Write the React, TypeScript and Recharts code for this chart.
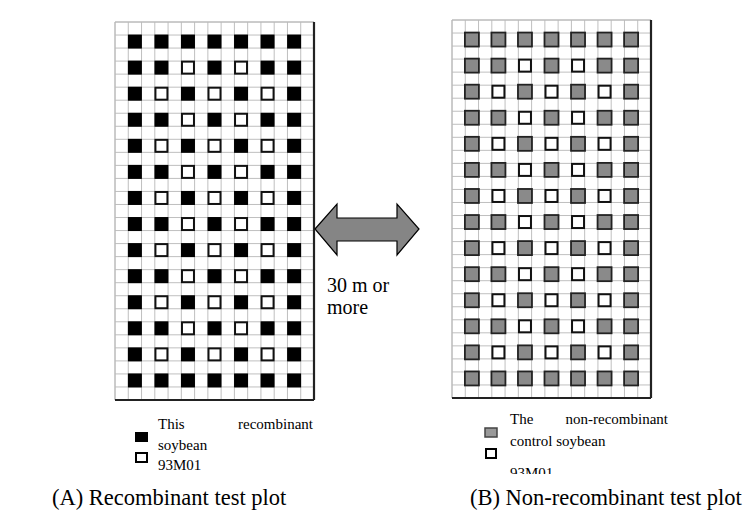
import React from 'react';
import { ScatterChart, Scatter, XAxis, YAxis, CartesianGrid, ReferenceLine } from 'recharts';

// plot layout: cell boundaries of the field grid (15 columns x 29 rows)
const colTicks = [0, 1, 2, 3, 4, 5, 6, 7, 8, 9, 10, 11, 12, 13, 14, 15];
const rowTicks = [0, 1, 2, 3, 4, 5, 6, 7, 8, 9, 10, 11, 12, 13, 14, 15, 16, 17, 18, 19, 20, 21, 22, 23, 24, 25, 26, 27, 28, 29];

// centres of the planted squares, in grid cells
const plantCols = [1.5, 3.5, 5.5, 7.5, 9.5, 11.5, 13.5];
const plantRows = [1.5, 3.5, 5.5, 7.5, 9.5, 11.5, 13.5, 15.5, 17.5, 19.5, 21.5, 23.5, 25.5, 27.5];

// S = soybean under test (recombinant or control), C = 93M01
const plantMap = [
  'SSSSSSS',
  'SSCSCSS',
  'SCSCSCS',
  'SSCSCSS',
  'SCSCSCS',
  'SSCSCSS',
  'SCSCSCS',
  'SSCSCSS',
  'SCSCSCS',
  'SSCSCSS',
  'SCSCSCS',
  'SSCSCSS',
  'SCSCSCS',
  'SSSSSSS',
];

const plotTitles = ['(A) Recombinant test plot', '(B) Non-recombinant test plot'];

type Cell = { x: number; y: number; kind: string };

const cells: Cell[] = [];
plantRows.forEach((y, i) => {
  plantCols.forEach((x, j) => {
    cells.push({ x, y, kind: plantMap[i][j] });
  });
});
const testCells = cells.filter((c) => c.kind === 'S');
const ctrlCells = cells.filter((c) => c.kind === 'C');

const serif = '"Liberation Serif", "Times New Roman", serif';

const FieldPlot = ({ left, top, fill, edge }: { left: number; top: number; fill: string; edge: string }) => {
  const solid = (p: any) => (
    <rect x={p.cx - 7} y={p.cy - 7} width={14} height={14} fill={fill} stroke={edge} strokeWidth={edge === 'none' ? 0 : 1.8} />
  );
  const hollow = (p: any) => (
    <rect x={p.cx - 6} y={p.cy - 6} width={12} height={12} fill="#fff" stroke="#111" strokeWidth={2} />
  );
  return (
    <div style={{ position: 'absolute', left, top }}>
      <ScatterChart width={205} height={384} margin={{ top: 3, right: 3, bottom: 3, left: 3 }}>
        <XAxis type="number" dataKey="x" domain={[0, 15]} ticks={colTicks} interval={0} hide allowDataOverflow />
        <YAxis type="number" dataKey="y" domain={[0, 29]} ticks={rowTicks} interval={0} reversed hide allowDataOverflow />
        <CartesianGrid stroke="#bfbfbf" strokeWidth={1} />
        <ReferenceLine x={0} stroke="#b8b8b8" />
        <ReferenceLine y={0} stroke="#b8b8b8" />
        <Scatter data={testCells} shape={solid} isAnimationActive={false} />
        <Scatter data={ctrlCells} shape={hollow} isAnimationActive={false} />
        <ReferenceLine x={15} stroke="#222" strokeWidth={2.2} />
        <ReferenceLine y={29} stroke="#222" strokeWidth={2.2} />
      </ScatterChart>
    </div>
  );
};

export default function App() {
  return (
    <div style={{ position: 'absolute', left: 0, top: 0, width: 745, height: 511, background: '#fff', overflow: 'hidden' }}>
      <FieldPlot left={112} top={19} fill="#000" edge="none" />
      <FieldPlot left={449} top={17} fill="#8a8a8a" edge="#222" />
      <svg width={745} height={511} style={{ position: 'absolute', left: 0, top: 0, pointerEvents: 'none' }}>
        <defs>
          <clipPath id="legB">
            <rect x={440} y={400} width={260} height={74} />
          </clipPath>
        </defs>
        <polygon
          points="315,229 337,204 337,218 397,218 397,204 419,229 397,255 397,241 337,241 337,255"
          fill="#858585"
          stroke="#000"
          strokeWidth={1.2}
        />
        <g fontFamily={serif} fill="#000">
          <text x={327} y={292} fontSize={20}>30 m or</text>
          <text x={327} y={314} fontSize={20}>more</text>

          <rect x={135} y={432} width={13} height={10} fill="#000" />
          <rect x={136} y={453} width={11} height={9} fill="#fff" stroke="#000" strokeWidth={2} />
          <text x={158} y={429} fontSize={15}>This</text>
          <text x={313} y={429} fontSize={15} textAnchor="end">recombinant</text>
          <text x={158} y={450} fontSize={15}>soybean</text>
          <text x={158} y={470} fontSize={15}>93M01</text>

          <rect x={485} y={428} width={12} height={9} fill="#999" stroke="#444" strokeWidth={1.5} />
          <rect x={486} y={449} width={10} height={9} fill="#fff" stroke="#000" strokeWidth={2} />
          <g clipPath="url(#legB)">
            <text x={510} y={424} fontSize={15}>The</text>
            <text x={668} y={424} fontSize={15} textAnchor="end">non-recombinant</text>
            <text x={510} y={446} fontSize={15}>control soybean</text>
            <text x={510} y={478} fontSize={15}>93M01</text>
          </g>

          <text x={52} y={505} fontSize={22.5}>{plotTitles[0]}</text>
          <text x={470} y={505} fontSize={22.5}>{plotTitles[1]}</text>
        </g>
      </svg>
    </div>
  );
}
